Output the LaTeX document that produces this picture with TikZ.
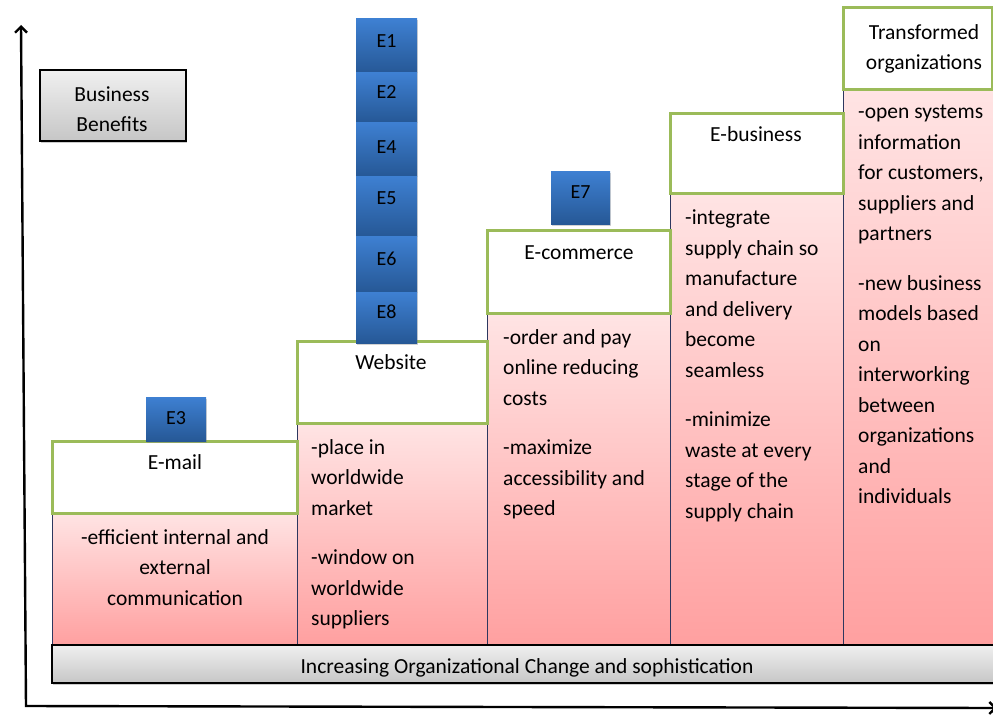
\documentclass[tikz,border=0pt]{standalone}
\usepackage{fontspec}
\setmainfont{Carlito}
\usetikzlibrary{arrows.meta,shadows}

\definecolor{stagegreen}{RGB}{155,187,89}
\definecolor{pinktop}{RGB}{255,228,228}
\definecolor{pinkbot}{RGB}{255,160,160}
\definecolor{eblue}{RGB}{62,128,210}
\definecolor{ebluedark}{RGB}{38,88,150}
\definecolor{colline}{RGB}{45,55,95}
\definecolor{greytop}{RGB}{240,240,240}
\definecolor{greybot}{RGB}{198,198,198}

\newcommand{\bodyfont}{\fontsize{21.5}{30.5}\selectfont}

\tikzset{
  pinkcol/.style={rectangle, draw=colline, line width=1pt, top color=pinktop,
    bottom color=pinkbot, inner sep=0, outer sep=0},
  stagebox/.style={rectangle, draw=stagegreen, line width=3pt, fill=white,
    inner sep=0, outer sep=0},
  ebox/.style={rectangle, top color=eblue, bottom color=ebluedark, draw=none,
    inner sep=0, minimum width=61, font=\fontsize{20}{22}\selectfont,
    drop shadow={shadow xshift=1pt, shadow yshift=-1.5pt, opacity=0.35}},
  greybox/.style={rectangle, draw=black, line width=1.3pt, top color=greytop,
    bottom color=greybot, inner sep=0, align=center,
    drop shadow={shadow xshift=1pt, shadow yshift=-1.5pt, opacity=0.4}},
  title/.style={inner sep=0, font=\bodyfont, align=center},
  bodytext/.style={inner sep=0, anchor=north west, align=left, font=\bodyfont},
  axis/.style={line width=2.4pt, {Straight Barb[length=6pt,width=12pt]}-{Straight Barb[length=6pt,width=12pt]}}
}

\begin{document}
\begin{tikzpicture}[x=1pt,y=-1pt]
\useasboundingbox (0,0) rectangle (993,717);

% axes
\coordinate (ytip) at (21,25);
\coordinate (origin) at (26,706);
\coordinate (xtip) at (997,708);
\draw[axis] (ytip) -- (origin) -- (xtip);

% Business Benefits label box
\node[greybox, minimum width=146, minimum height=71] (benefits) at (113,105.5) {};
\node[title] (benefitstext) at (112,109) {Business\\Benefits};

% pink columns
\node[pinkcol, minimum width=245, minimum height=132] (col1) at (174.5,579) {};
\node[pinkcol, minimum width=190, minimum height=222] (col2) at (392,534) {};
\node[pinkcol, minimum width=183, minimum height=332] (col3) at (578.5,479) {};
\node[pinkcol, minimum width=173, minimum height=452] (col4) at (756.5,419) {};
\node[pinkcol, minimum width=153, minimum height=556] (col5) at (919.5,367) {};

% bottom bar
\node[greybox, minimum width=950, minimum height=38] (bar) at (527,664) {};
\node[title] (bartext) at (527,668) {Increasing Organizational Change and sophistication};

% stage boxes
\node[stagebox, minimum width=245, minimum height=72] (email) at (174.5,477) {};
\node[stagebox, minimum width=190, minimum height=82] (website) at (392,382) {};
\node[stagebox, minimum width=183, minimum height=83] (ecommerce) at (578.5,271.5) {};
\node[stagebox, minimum width=173, minimum height=80] (ebusiness) at (756.5,153) {};
\node[stagebox, minimum width=149, minimum height=81] (transformed) at (917.5,48.5) {};

\node[title] (emailtext) at (175,462) {E-mail};
\node[title] (websitetext) at (391,362) {Website};
\node[title] (ecommercetext) at (579,253) {E-commerce};
\node[title] (ebusinesstext) at (756,134) {E-business};
\node[title] (transformedtext) at (924,49) {Transformed\\organizations};

% E boxes (text depth lifts each label towards the top of its box)
\node[ebox, minimum height=54, text depth=10] (e1) at (386.5,46) {E1};
\node[ebox, minimum height=49, text depth=11] (e2) at (386.5,97.5) {E2};
\node[ebox, minimum height=54, text depth=4] (e4) at (386.5,149) {E4};
\node[ebox, minimum height=60, text depth=16] (e5) at (386.5,206) {E5};
\node[ebox, minimum height=56, text depth=10] (e6) at (386.5,264) {E6};
\node[ebox, minimum height=51, text depth=11] (e8) at (386.5,317.5) {E8};
\node[ebox, minimum width=60, minimum height=44, text depth=2] (e3) at (176,419) {E3};
\node[ebox, minimum width=59, minimum height=53, text depth=11] (e7) at (580.5,197.5) {E7};

% column texts
\node[title, anchor=north] (col1text) at (175,529)
  {-efficient internal and\\external\\communication};
\node[bodytext] (col2text) at (311,439)
  {-place in\\worldwide\\market\\[19pt]-window on\\worldwide\\suppliers};
\node[bodytext] (col3text) at (503,329)
  {-order and pay\\online reducing\\costs\\[19pt]-maximize\\accessibility and\\speed};
\node[bodytext] (col4text) at (685,210)
  {-integrate\\supply chain so\\manufacture\\and delivery\\become\\seamless\\[19pt]-minimize\\waste at every\\stage of the\\supply chain};
\node[bodytext] (col5text) at (858,105)
  {-open systems\\information\\for customers,\\suppliers and\\partners\\[19pt]-new business\\models based\\on\\interworking\\between\\organizations\\and\\individuals};
\end{tikzpicture}
\end{document}
